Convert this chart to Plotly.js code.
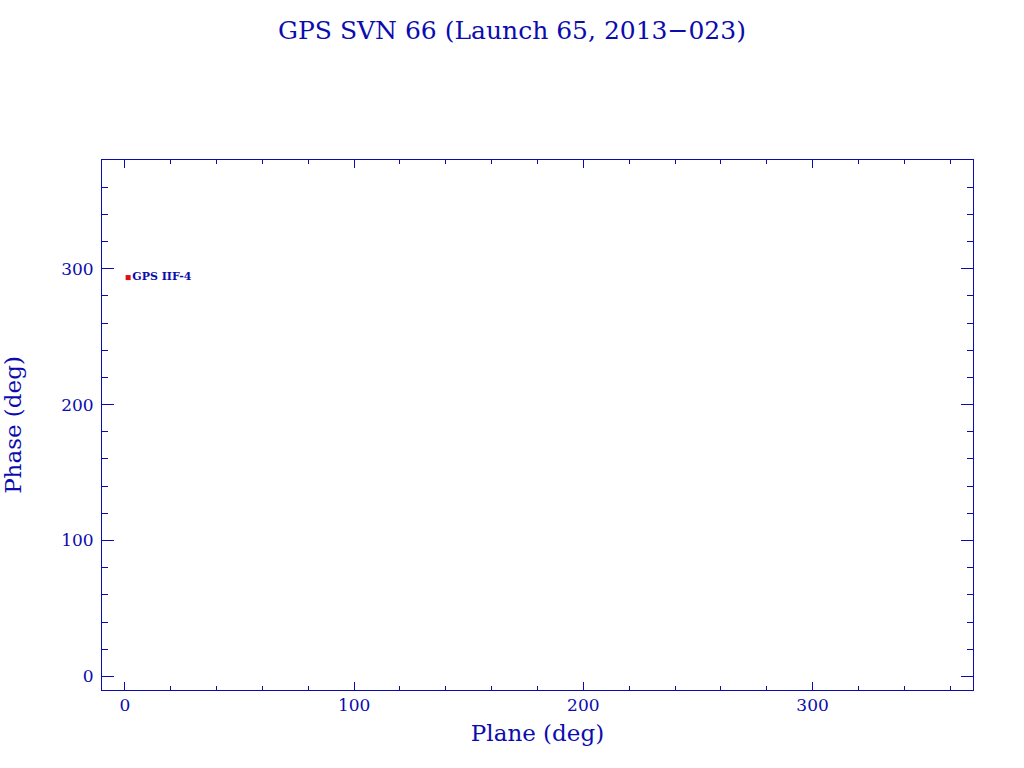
<!DOCTYPE html>
<html><head><meta charset="utf-8">
<script src="https://cdn.plot.ly/plotly-3.0.1.min.js"></script>
<style>body{margin:0;background:#fff}#c{width:1024px;height:768px}</style>
</head><body><div id="c"></div>
<script>
const planeDeg = [1.4];
const phaseDeg = [293.5];
const satNames = ["GPS IIF-4"];
const xTicks = [0, 100, 200, 300];
const yTicks = [0, 100, 200, 300];

const blue = '#0c0cae';
const axisCommon = {
  showgrid: false, zeroline: false, showline: true, linecolor: blue, linewidth: 1,
  mirror: 'ticks', ticks: 'inside', tickcolor: blue, tickwidth: 1,
  tickfont: {family: 'DejaVu Serif, serif', size: 17, color: blue},
  tickmode: 'array'
};
const data = [{
  x: planeDeg, y: phaseDeg, text: satNames, type: 'scatter', mode: 'markers+text',
  marker: {symbol: 'square', size: 5, color: '#e01010'},
  textposition: 'middle right',
  textfont: {family: 'DejaVu Serif, serif', size: 11, color: blue, weight: 'bold'},
  cliponaxis: false, hoverinfo: 'skip'
}];
const layout = {
  width: 1024, height: 768,
  margin: {l: 102, r: 51, t: 160, b: 78},
  paper_bgcolor: '#fff', plot_bgcolor: '#fff', showlegend: false,
  title: {text: 'GPS SVN 66 (Launch 65, 2013\u2212023)', x: 0.5, xref: 'container', xanchor: 'center',
    y: 0.96, yref: 'container', yanchor: 'middle',
    font: {family: 'DejaVu Serif, serif', size: 25, color: blue}},
  xaxis: Object.assign({}, axisCommon, {
    range: [-10, 370], tickvals: xTicks, ticklen: 8,
    minor: {dtick: 20, tick0: 0, ticklen: 4, tickcolor: blue, ticks: 'inside'},
    title: {text: 'Plane (deg)', standoff: 10, font: {family: 'DejaVu Serif, serif', size: 23, color: blue}}
  }),
  yaxis: Object.assign({}, axisCommon, {
    range: [-10, 380], tickvals: yTicks, ticklen: 12, ticklabelstandoff: 4,
    minor: {dtick: 20, tick0: 0, ticklen: 6, tickcolor: blue, ticks: 'inside'},
    title: {text: 'Phase (deg)', standoff: 34, font: {family: 'DejaVu Serif, serif', size: 23, color: blue}}
  })
};
Plotly.newPlot('c', data, layout, {staticPlot: true});
</script></body></html>
